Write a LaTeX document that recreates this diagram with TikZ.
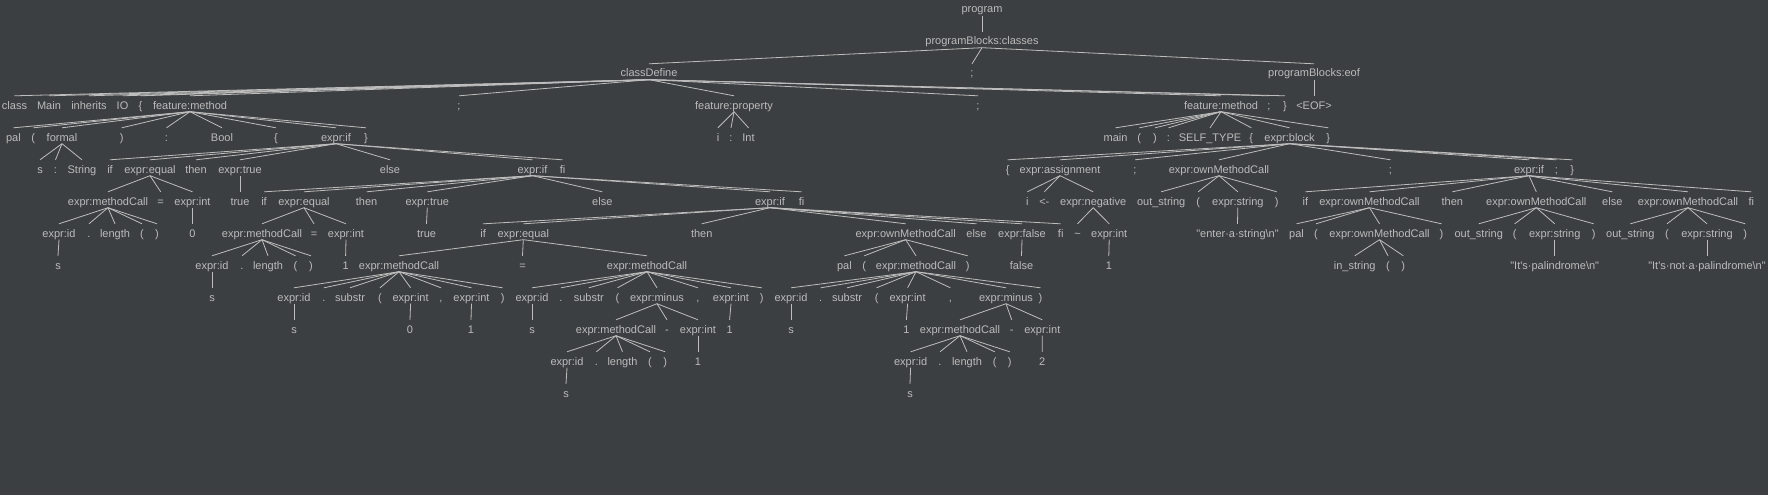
\documentclass[tikz,border=0pt]{standalone}
\usepackage{fontspec}
\usepackage{xcolor}
\newfontfamily\treefont{Liberation Sans}
\definecolor{bgcol}{HTML}{3C3F41}
\definecolor{txtcol}{HTML}{BBBBBB}
\definecolor{linecol}{HTML}{BDBDBD}

\begin{document}
\begin{tikzpicture}[x=1pt,y=-1pt]
	\tikzstyle{tok}=[font=\treefont\fontsize{11}{13}\selectfont,text=txtcol,inner sep=0pt,text height=13pt,text depth=2.5pt,anchor=base]
	\tikzstyle{every edge}=[draw=linecol,line width=0.8pt]

	\fill[bgcol] (0,0) rectangle (1768,495);
	\useasboundingbox (0,0) rectangle (1768,495);

	% row 0 - 2
	\node [tok] (1) at (982,13) {program};
	\node [tok] (2) at (982,45) {programBlocks:classes};
	\node [tok] (3) at (649,77) {classDefine};
	\node [tok] (4) at (972,77) {;};
	\node [tok] (5) at (1314,77) {programBlocks:eof};

	% row 3
	\node [tok] (6) at (14.5,109) {class};
	\node [tok] (7) at (49,109) {Main};
	\node [tok] (8) at (89,109) {inherits};
	\node [tok] (9) at (122.5,109) {IO};
	\node [tok] (10) at (140.5,109) {\{};
	\node [tok] (11) at (190,109) {feature:method};
	\node [tok] (12) at (459,109) {;};
	\node [tok] (13) at (734,109) {feature:property};
	\node [tok] (14) at (978,109) {;};
	\node [tok] (15) at (1221,109) {feature:method};
	\node [tok] (16) at (1269,109) {;};
	\node [tok] (17) at (1285,109) {\}};
	\node [tok] (18) at (1314,109) {<EOF>};

	% row 4
	\node [tok] (19) at (13.4,141) {pal};
	\node [tok] (20) at (33.3,141) {(};
	\node [tok] (21) at (62,141) {formal};
	\node [tok] (22) at (121.7,141) {)};
	\node [tok] (23) at (166.5,141) {:};
	\node [tok] (24) at (222,141) {Bool};
	\node [tok] (25) at (276,141) {\{};
	\node [tok] (26) at (336,141) {expr:if};
	\node [tok] (27) at (366,141) {\}};
	\node [tok] (28) at (718,141) {i};
	\node [tok] (29) at (731,141) {:};
	\node [tok] (30) at (748.5,141) {Int};
	\node [tok] (31) at (1115.5,141) {main};
	\node [tok] (32) at (1139.3,141) {(};
	\node [tok] (33) at (1155,141) {)};
	\node [tok] (34) at (1168.5,141) {:};
	\node [tok] (35) at (1210,141) {SELF\_TYPE};
	\node [tok] (36) at (1251.3,141) {\{};
	\node [tok] (37) at (1289.5,141) {expr:block};
	\node [tok] (38) at (1328.3,141) {\}};

	% row 5
	\node [tok] (39) at (40,173) {s};
	\node [tok] (40) at (55.5,173) {:};
	\node [tok] (41) at (82,173) {String};
	\node [tok] (42) at (110,173) {if};
	\node [tok] (43) at (150,173) {expr:equal};
	\node [tok] (44) at (196,173) {then};
	\node [tok] (45) at (240,173) {expr:true};
	\node [tok] (46) at (390,173) {else};
	\node [tok] (47) at (532.5,173) {expr:if};
	\node [tok] (48) at (562.5,173) {fi};
	\node [tok] (49) at (1007.6,173) {\{};
	\node [tok] (50) at (1060,173) {expr:assignment};
	\node [tok] (51) at (1135,173) {;};
	\node [tok] (52) at (1219,173) {expr:ownMethodCall};
	\node [tok] (53) at (1390.5,173) {;};
	\node [tok] (54) at (1529,173) {expr:if};
	\node [tok] (55) at (1556.3,173) {;};
	\node [tok] (56) at (1572.3,173) {\}};

	% row 6
	\node [tok] (57) at (108,205) {expr:methodCall};
	\node [tok] (58) at (160.7,205) {=};
	\node [tok] (59) at (192.5,205) {expr:int};
	\node [tok] (60) at (240,205) {true};
	\node [tok] (61) at (264,205) {if};
	\node [tok] (62) at (304,205) {expr:equal};
	\node [tok] (63) at (366.6,205) {then};
	\node [tok] (64) at (427.3,205) {expr:true};
	\node [tok] (65) at (602.3,205) {else};
	\node [tok] (66) at (770,205) {expr:if};
	\node [tok] (67) at (801.6,205) {fi};
	\node [tok] (68) at (1027.3,205) {i};
	\node [tok] (69) at (1044.3,205) {<-};
	\node [tok] (70) at (1093.2,205) {expr:negative};
	\node [tok] (71) at (1161.2,205) {out\_string};
	\node [tok] (72) at (1198.2,205) {(};
	\node [tok] (73) at (1237.8,205) {expr:string};
	\node [tok] (74) at (1276.7,205) {)};
	\node [tok] (75) at (1305.3,205) {if};
	\node [tok] (76) at (1369.5,205) {expr:ownMethodCall};
	\node [tok] (77) at (1452.3,205) {then};
	\node [tok] (78) at (1536.3,205) {expr:ownMethodCall};
	\node [tok] (79) at (1612.3,205) {else};
	\node [tok] (80) at (1688,205) {expr:ownMethodCall};
	\node [tok] (81) at (1751.3,205) {fi};

	% row 7
	\node [tok] (82) at (59,237) {expr:id};
	\node [tok] (83) at (89,237) {.};
	\node [tok] (84) at (115,237) {length};
	\node [tok] (85) at (142,237) {(};
	\node [tok] (86) at (157,237) {)};
	\node [tok] (87) at (192.5,237) {0};
	\node [tok] (88) at (262,237) {expr:methodCall};
	\node [tok] (89) at (314,237) {=};
	\node [tok] (90) at (346,237) {expr:int};
	\node [tok] (91) at (426.5,237) {true};
	\node [tok] (92) at (483.2,237) {if};
	\node [tok] (93) at (523.3,237) {expr:equal};
	\node [tok] (94) at (701.7,237) {then};
	\node [tok] (95) at (905.7,237) {expr:ownMethodCall};
	\node [tok] (96) at (976.5,237) {else};
	\node [tok] (97) at (1022,237) {expr:false};
	\node [tok] (98) at (1060.7,237) {fi};
	\node [tok] (99) at (1077.5,237) {\textasciitilde};
	\node [tok] (100) at (1109.2,237) {expr:int};
	\node [tok] (101) at (1237.5,237) {"enter·a·string\textbackslash n"};
	\node [tok] (102) at (1296.5,237) {pal};
	\node [tok] (103) at (1316,237) {(};
	\node [tok] (104) at (1379.5,237) {expr:ownMethodCall};
	\node [tok] (105) at (1441.5,237) {)};
	\node [tok] (106) at (1478.7,237) {out\_string};
	\node [tok] (107) at (1514.7,237) {(};
	\node [tok] (108) at (1554.7,237) {expr:string};
	\node [tok] (109) at (1593.7,237) {)};
	\node [tok] (110) at (1630.3,237) {out\_string};
	\node [tok] (111) at (1667,237) {(};
	\node [tok] (112) at (1707,237) {expr:string};
	\node [tok] (113) at (1745.3,237) {)};

	% row 8
	\node [tok] (114) at (58,269) {s};
	\node [tok] (115) at (212,269) {expr:id};
	\node [tok] (116) at (242,269) {.};
	\node [tok] (117) at (268,269) {length};
	\node [tok] (118) at (295.5,269) {(};
	\node [tok] (119) at (311,269) {)};
	\node [tok] (120) at (345.6,269) {1};
	\node [tok] (121) at (399,269) {expr:methodCall};
	\node [tok] (122) at (522.5,269) {=};
	\node [tok] (123) at (647,269) {expr:methodCall};
	\node [tok] (124) at (844.4,269) {pal};
	\node [tok] (125) at (864.3,269) {(};
	\node [tok] (126) at (916,269) {expr:methodCall};
	\node [tok] (127) at (967.7,269) {)};
	\node [tok] (128) at (1021.5,269) {false};
	\node [tok] (129) at (1108.8,269) {1};
	\node [tok] (130) at (1354.7,269) {in\_string};
	\node [tok] (131) at (1388,269) {(};
	\node [tok] (132) at (1403.3,269) {)};
	\node [tok] (133) at (1554.7,269) {"It's·palindrome\textbackslash n"};
	\node [tok] (134) at (1707,269) {"It's·not·a·palindrome\textbackslash n"};

	% row 9
	\node [tok] (135) at (212,301) {s};
	\node [tok] (136) at (294,301) {expr:id};
	\node [tok] (137) at (324,301) {.};
	\node [tok] (138) at (350,301) {substr};
	\node [tok] (139) at (380,301) {(};
	\node [tok] (140) at (410.6,301) {expr:int};
	\node [tok] (141) at (441,301) {,};
	\node [tok] (142) at (471.5,301) {expr:int};
	\node [tok] (143) at (502.6,301) {)};
	\node [tok] (144) at (532,301) {expr:id};
	\node [tok] (145) at (561,301) {.};
	\node [tok] (146) at (588.8,301) {substr};
	\node [tok] (147) at (617.5,301) {(};
	\node [tok] (148) at (657,301) {expr:minus};
	\node [tok] (149) at (698,301) {,};
	\node [tok] (150) at (731,301) {expr:int};
	\node [tok] (151) at (761.8,301) {)};
	\node [tok] (152) at (791,301) {expr:id};
	\node [tok] (153) at (820.7,301) {.};
	\node [tok] (154) at (847,301) {substr};
	\node [tok] (155) at (876.6,301) {(};
	\node [tok] (156) at (907.6,301) {expr:int};
	\node [tok] (157) at (950.4,301) {,};
	\node [tok] (158) at (1006,301) {expr:minus};
	\node [tok] (159) at (1040.5,301) {)};

	% row 10
	\node [tok] (160) at (294,333) {s};
	\node [tok] (161) at (410,333) {0};
	\node [tok] (162) at (471,333) {1};
	\node [tok] (163) at (532,333) {s};
	\node [tok] (164) at (616,333) {expr:methodCall};
	\node [tok] (165) at (667,333) {-};
	\node [tok] (166) at (698,333) {expr:int};
	\node [tok] (167) at (729.6,333) {1};
	\node [tok] (168) at (791,333) {s};
	\node [tok] (169) at (906.4,333) {1};
	\node [tok] (170) at (960,333) {expr:methodCall};
	\node [tok] (171) at (1011.7,333) {-};
	\node [tok] (172) at (1042.3,333) {expr:int};

	% row 11 - 12
	\node [tok] (173) at (567,365) {expr:id};
	\node [tok] (174) at (596.4,365) {.};
	\node [tok] (175) at (622.5,365) {length};
	\node [tok] (176) at (650,365) {(};
	\node [tok] (177) at (665.3,365) {)};
	\node [tok] (178) at (698,365) {1};
	\node [tok] (179) at (910.6,365) {expr:id};
	\node [tok] (180) at (940,365) {.};
	\node [tok] (181) at (967,365) {length};
	\node [tok] (182) at (994.8,365) {(};
	\node [tok] (183) at (1009.8,365) {)};
	\node [tok] (184) at (1042.2,365) {2};
	\node [tok] (185) at (566,397) {s};
	\node [tok] (186) at (910,397) {s};

	% edges, parent to children
	\path (1.south) edge (2.north);
	\path (2.south) edge (3.north) edge (4.north) edge (5.north);
	\path (3.south) edge (6.north) edge (7.north) edge (8.north) edge (9.north) edge (10.north) edge (11.north)
		edge (12.north) edge (13.north) edge (14.north) edge (15.north) edge (16.north) edge (17.north);
	\path (5.south) edge (18.north);
	\path (11.south) edge (19.north) edge (20.north) edge (21.north) edge (22.north) edge (23.north)
		edge (24.north) edge (25.north) edge (26.north) edge (27.north);
	\path (13.south) edge (28.north) edge (29.north) edge (30.north);
	\path (15.south) edge (31.north) edge (32.north) edge (33.north) edge (34.north) edge (35.north)
		edge (36.north) edge (37.north) edge (38.north);
	\path (21.south) edge (39.north) edge (40.north) edge (41.north);
	\path (26.south) edge (42.north) edge (43.north) edge (44.north) edge (45.north) edge (46.north)
		edge (47.north) edge (48.north);
	\path (37.south) edge (49.north) edge (50.north) edge (51.north) edge (52.north) edge (53.north)
		edge (54.north) edge (55.north) edge (56.north);
	\path (43.south) edge (57.north) edge (58.north) edge (59.north);
	\path (45.south) edge (60.north);
	\path (47.south) edge (61.north) edge (62.north) edge (63.north) edge (64.north) edge (65.north)
		edge (66.north) edge (67.north);
	\path (50.south) edge (68.north) edge (69.north) edge (70.north);
	\path (52.south) edge (71.north) edge (72.north) edge (73.north) edge (74.north);
	\path (54.south) edge (75.north) edge (76.north) edge (77.north) edge (78.north) edge (79.north)
		edge (80.north) edge (81.north);
	\path (57.south) edge (82.north) edge (83.north) edge (84.north) edge (85.north) edge (86.north);
	\path (59.south) edge (87.north);
	\path (62.south) edge (88.north) edge (89.north) edge (90.north);
	\path (64.south) edge (91.north);
	\path (66.south) edge (92.north) edge (93.north) edge (94.north) edge (95.north) edge (96.north)
		edge (97.north) edge (98.north);
	\path (70.south) edge (99.north) edge (100.north);
	\path (73.south) edge (101.north);
	\path (76.south) edge (102.north) edge (103.north) edge (104.north) edge (105.north);
	\path (78.south) edge (106.north) edge (107.north) edge (108.north) edge (109.north);
	\path (80.south) edge (110.north) edge (111.north) edge (112.north) edge (113.north);
	\path (82.south) edge (114.north);
	\path (88.south) edge (115.north) edge (116.north) edge (117.north) edge (118.north) edge (119.north);
	\path (90.south) edge (120.north);
	\path (93.south) edge (121.north) edge (122.north) edge (123.north);
	\path (95.south) edge (124.north) edge (125.north) edge (126.north) edge (127.north);
	\path (97.south) edge (128.north);
	\path (100.south) edge (129.north);
	\path (104.south) edge (130.north) edge (131.north) edge (132.north);
	\path (108.south) edge (133.north);
	\path (112.south) edge (134.north);
	\path (115.south) edge (135.north);
	\path (121.south) edge (136.north) edge (137.north) edge (138.north) edge (139.north) edge (140.north)
		edge (141.north) edge (142.north) edge (143.north);
	\path (123.south) edge (144.north) edge (145.north) edge (146.north) edge (147.north) edge (148.north)
		edge (149.north) edge (150.north) edge (151.north);
	\path (126.south) edge (152.north) edge (153.north) edge (154.north) edge (155.north) edge (156.north)
		edge (157.north) edge (158.north) edge (159.north);
	\path (136.south) edge (160.north);
	\path (140.south) edge (161.north);
	\path (142.south) edge (162.north);
	\path (144.south) edge (163.north);
	\path (148.south) edge (164.north) edge (165.north) edge (166.north);
	\path (150.south) edge (167.north);
	\path (152.south) edge (168.north);
	\path (156.south) edge (169.north);
	\path (158.south) edge (170.north) edge (171.north) edge (172.north);
	\path (164.south) edge (173.north) edge (174.north) edge (175.north) edge (176.north) edge (177.north);
	\path (166.south) edge (178.north);
	\path (170.south) edge (179.north) edge (180.north) edge (181.north) edge (182.north) edge (183.north);
	\path (172.south) edge (184.north);
	\path (173.south) edge (185.north);
	\path (179.south) edge (186.north);

\end{tikzpicture}
\end{document}
